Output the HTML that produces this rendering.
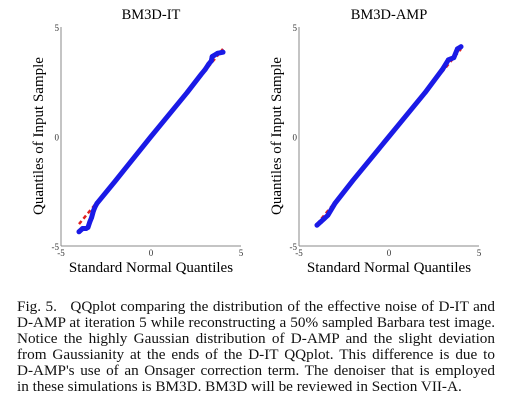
<!DOCTYPE html>
<html><head><meta charset="utf-8"><style>
body{margin:0;background:#fff;width:509px;height:419px;overflow:hidden;font-family:"Liberation Serif",serif;}
#cap{position:absolute;left:17px;top:299px;width:478px;font-size:15.2px;line-height:16px;color:#111;}
#cap div{text-align:justify;text-align-last:justify;white-space:nowrap;}
#cap div.last{text-align-last:left;}
</style></head><body>
<svg id="chart" width="509" height="290" style="position:absolute;left:0;top:0" font-family="Liberation Serif, serif"></svg>
<div id="cap">
<div>Fig. 5.&nbsp;&nbsp; QQplot comparing the distribution of the effective noise of D-IT and</div>
<div>D-AMP at iteration 5 while reconstructing a 50% sampled Barbara test image.</div>
<div>Notice the highly Gaussian distribution of D-AMP and the slight deviation</div>
<div>from Gaussianity at the ends of the D-IT QQplot. This difference is due to</div>
<div>D-AMP's use of an Onsager correction term. The denoiser that is employed</div>
<div class="last">in these simulations is BM3D. BM3D will be reviewed in Section VII-A.</div>
</div>
<script>
const xTicks=[-5,0,5];
const yTicks=[-5,0,5];
const itX=[-4.0,-3.8,-3.6,-3.5,-3.4,-3.3,-3.2,-3.1,-3.0,-2.0,0,2.0,2.8,3.0,3.2,3.35,3.4,3.5,3.7,4.0];
const itY=[-4.35,-4.2,-4.2,-4.15,-3.9,-3.7,-3.4,-3.2,-3.05,-2.05,0,2.0,2.85,3.05,3.3,3.45,3.65,3.7,3.8,3.85];
const ampX=[-4.0,-3.8,-3.6,-3.4,-3.0,-2.0,0,2.0,3.0,3.3,3.6,3.8,4.0];
const ampY=[-4.05,-3.9,-3.75,-3.6,-3.05,-2.0,0,2.0,3.1,3.5,3.6,4.0,4.1];
const NS='http://www.w3.org/2000/svg';
const svg=document.getElementById('chart');
function mk(t,a,p){const e=document.createElementNS(NS,t);for(const k in a)e.setAttribute(k,a[k]);(p||svg).appendChild(e);return e;}
function panel(name,x0,title,xs,ys){
  const g=mk('g',{});
  
  
  const sx=v=>x0+(v+5)/10*180, sy=v=>136.5-v/10*219;
  const t=mk('text',{x:x0+90,y:19,'text-anchor':'middle','font-size':14.5},g);t.textContent=title;
  
  
  mk('line',{x1:x0,y1:27,x2:x0,y2:246,stroke:'#888','stroke-width':1},g);
  mk('line',{x1:x0,y1:246,x2:x0+180,y2:246,stroke:'#888','stroke-width':1},g);
  xTicks.forEach(v=>{const e=mk('text',{x:sx(v),y:256,'text-anchor':'middle','font-size':9,fill:'#333'},g);e.textContent=v;
    
    });
  yTicks.forEach(v=>{const e=mk('text',{x:x0-2,y:sy(v)+4,'text-anchor':'end','font-size':9,fill:'#333'},g);e.textContent=v;
    
    });
  const xl=mk('text',{x:x0+90,y:272,'text-anchor':'middle','font-size':15},g);xl.textContent='Standard Normal Quantiles';
  
  
  const yl=mk('text',{x:0,y:0,'text-anchor':'middle','font-size':15,transform:`translate(${x0-18},136) rotate(-90)`},g);yl.textContent='Quantiles of Input Sample';
  
  
  const rl=mk('line',{x1:sx(-4),y1:sy(-4),x2:sx(4),y2:sy(4),stroke:'#e02020','stroke-width':2.5,'stroke-dasharray':'4,3'},g);
  
  
  const pts=xs.map((v,i)=>sx(v)+','+sy(ys[i])).join(' ');
  const pl=mk('polyline',{points:pts,fill:'none',stroke:'#1a1ae6','stroke-width':5,'stroke-linejoin':'round','stroke-linecap':'round'},g);
  
  
  xs.forEach((v,i)=>{if(Math.abs(v)>=3){const c=mk('circle',{cx:sx(v),cy:sy(ys[i]),r:2.4,fill:'#1a1ae6'},g);
    
    }});
}
panel('bm3d-it-plot',61,'BM3D-IT',itX,itY);
panel('bm3d-amp-plot',299,'BM3D-AMP',ampX,ampY);
</script>
</body></html>
